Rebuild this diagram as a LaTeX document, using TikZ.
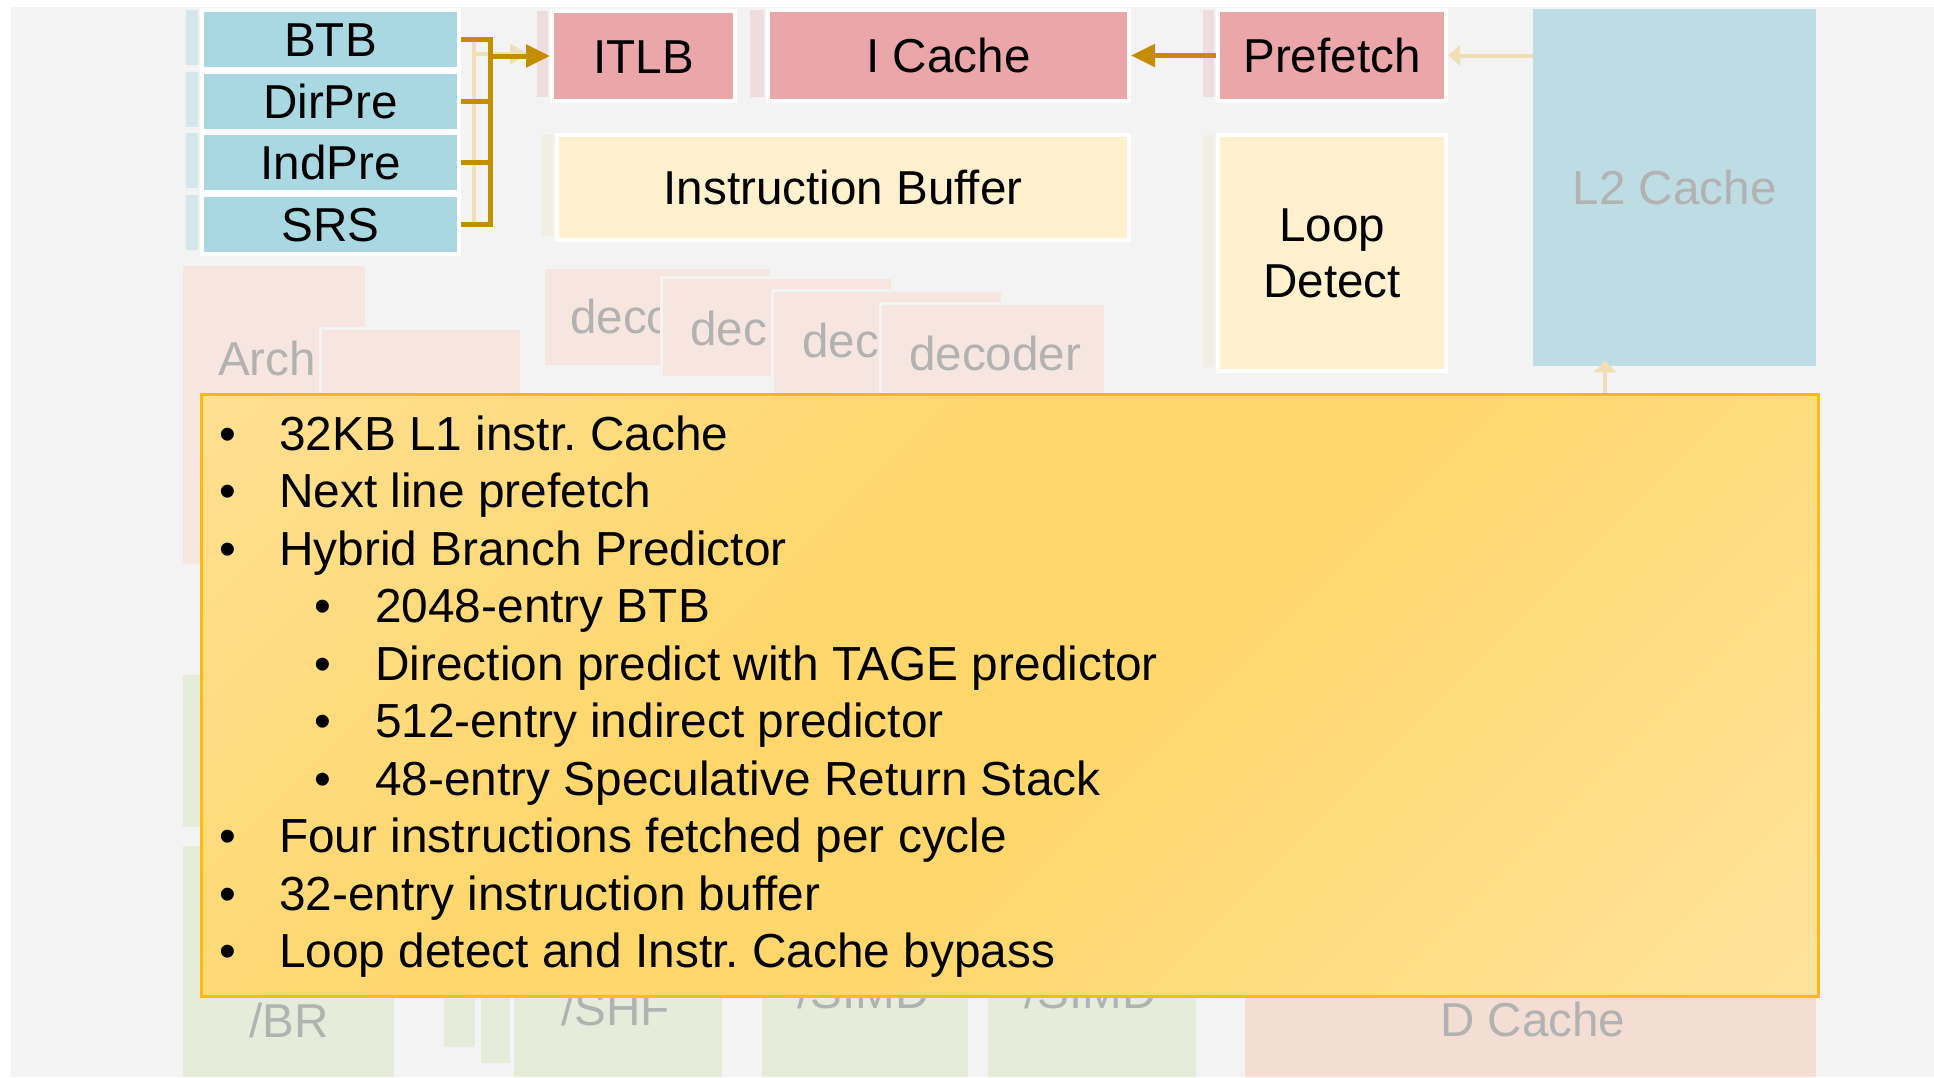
\documentclass[tikz,border=0pt]{standalone}
\usepackage{fontspec}
\setmainfont{Liberation Sans}
\usetikzlibrary{arrows.meta}

\definecolor{pagebg}{HTML}{F3F3F3}
\definecolor{predblue}{HTML}{A9D8E3}
\definecolor{fetchpink}{HTML}{EBA6A9}
\definecolor{bufcream}{HTML}{FFF1CE}
\definecolor{busgold}{HTML}{C38E00}
\definecolor{notesedge}{HTML}{FDBA12}
\definecolor{gfA}{HTML}{FFE5A8}
\definecolor{gfB}{HTML}{FFD76D}
\definecolor{gfC}{HTML}{FFE9B2}
\definecolor{washpeach}{HTML}{F6E6DF}
\definecolor{washpeachB}{HTML}{F4DDD3}
\definecolor{washgreen}{HTML}{E5ECDA}
\definecolor{washblue}{HTML}{BEDCE4}
\definecolor{stripblue}{HTML}{D5E7EC}
\definecolor{strippink}{HTML}{EFDCDD}
\definecolor{stripcream}{HTML}{F3EEE3}
\definecolor{washtext}{HTML}{B2B2B2}
\definecolor{washgold}{HTML}{EEDFB4}

\newcommand\unitfont{\fontsize{47.6pt}{56pt}\selectfont}
\newcommand\notefont{\fontsize{47.8pt}{57.5pt}\selectfont}

\pgfdeclarehorizontalshading{notesfade}{100bp}{color(0bp)=(gfA); color(40bp)=(gfB); color(55bp)=(gfB); color(100bp)=(gfC)}

\frenchspacing
\begin{document}
\begin{tikzpicture}[x=1pt,y=-1pt,
  unitbox/.style={draw=white, line width=4pt, inner sep=0pt, anchor=north west, font=\unitfont, text=black},
  unit/.style={unitbox, text height=34pt, text depth=0pt},
  washbox/.style={fill=#1, draw=pagebg, line width=3pt},
  washlabel/.style={anchor=base west, inner sep=0pt, font=\unitfont, text=washtext},
  goldwire/.style={draw=busgold, line width=5pt},
  goldarrow/.style={goldwire, -{Triangle[length=24pt,width=22pt]}},
  faintwire/.style={draw=washgold, line width=4pt},
  notes/.style={draw=notesedge, line width=3pt, shading=notesfade, shading angle=-45, inner sep=0pt, anchor=north west},
  bulletdot/.style={anchor=base, inner sep=0pt, font=\notefont},
  noteline/.style={anchor=base west, inner sep=0pt, font=\notefont},
]
\useasboundingbox (0,0) rectangle (1934,1077);
\fill[white] (0,0) rectangle (1934,1077);
\fill[pagebg] (11,7) rectangle (1934,1077);

% faded blocks of the rest of the core
\fill[washpeach] (183,266) rectangle (365,564);
\node[washlabel] (arch) at (218,375) {Arch};
\draw[washbox=washpeach] (320,328) rectangle (521,430);

\draw[washbox=washpeach] (543,267) rectangle (771,366);
\begin{scope}
  \clip (543,267) rectangle (659,366);
  \node[washlabel] (decA) at (570,333) {deco};
\end{scope}
\draw[washbox=washpeach] (661,277) rectangle (892,377);
\node[washlabel] (decB) at (690,345) {dec};
\draw[washbox=washpeach] (772,290) rectangle (1002,420);
\node[washlabel] (decC) at (802,357) {dec};
\draw[washbox=washpeach] (880,303) rectangle (1105,420);
\node[washlabel] (decD) at (909,370) {decoder};

\fill[washgreen] (183,675) rectangle (394,827);
\fill[washgreen] (183,846) rectangle (394,1077);
\node[washlabel] (br) at (249,1037) {/BR};
\fill[washgreen] (444,940) rectangle (475,1047);
\fill[washgreen] (481,940) rectangle (510,1063);
\fill[washgreen] (514,940) rectangle (722,1077);
\node[washlabel] (shf) at (561,1025) {/SHF};
\fill[washgreen] (762,940) rectangle (968,1077);
\node[washlabel] (simdA) at (797,1008) {/SIMD};
\fill[washgreen] (988,940) rectangle (1196,1077);
\node[washlabel] (simdB) at (1024,1008) {/SIMD};
\fill[washpeachB] (1245,940) rectangle (1816,1077);
\node[washlabel] (dcache) at (1440,1036) {D Cache};

\node[fill=washblue, inner sep=0pt, anchor=north west, minimum width=283pt, minimum height=357pt,
      font=\unitfont, text=washtext, text height=34pt, text depth=0pt] (L2) at (1533,9) {L2 Cache};

% faint edges left of each unit
\foreach \t in {10,71.7,133.3,195} \fill[stripblue] (186,\t) rectangle (198,\t+55);
\fill[strippink] (537,11) rectangle (548,97);
\fill[strippink] (750,10) rectangle (764,97);
\fill[strippink] (1203,10) rectangle (1214,97);
\fill[stripcream] (542,135) rectangle (553,236);
\fill[stripcream] (1203,135) rectangle (1214,367);

% front-end units
\node[unit, fill=predblue, minimum width=257pt, minimum height=59pt] (BTB) at (200,8) {BTB};
\node[unit, fill=predblue, minimum width=257pt, minimum height=59pt] (DirPre) at (200,69.7) {DirPre};
\node[unit, fill=predblue, minimum width=257pt, minimum height=59pt] (IndPre) at (200,131.3) {IndPre};
\node[unit, fill=predblue, minimum width=257pt, minimum height=59pt] (SRS) at (200,193) {SRS};

\node[unit, fill=fetchpink, minimum width=183pt, minimum height=90pt] (ITLB) at (550,9) {ITLB};
\node[unit, fill=fetchpink, minimum width=361pt, minimum height=91pt] (ICache) at (766,8) {I Cache};
\node[unit, fill=fetchpink, minimum width=228pt, minimum height=91pt] (Prefetch) at (1216,8) {Prefetch};
\node[unit, fill=bufcream, minimum width=572pt, minimum height=105pt] (IB) at (555,133) {Instruction Buffer};
\node[unitbox, fill=bufcream, minimum width=228pt, minimum height=236pt, align=center] (LD) at (1216,133) {Loop\\Detect};

% faint traces of earlier wiring
\draw[faintwire] (474,37.5) -- (474,222.5);
\draw[faintwire, -{Triangle[length=18pt,width=20pt]}] (474,54) -- (528,54);
\draw[faintwire, -{Triangle[length=12pt,width=20pt]}] (L2.west |- Prefetch.east) -- (Prefetch.east);

% predictor bus into the ITLB
\coordinate (bus) at (490,0);
\draw[goldwire] (BTB.east) -- (BTB.east -| bus) -- (SRS.east -| bus) -- (SRS.east);
\draw[goldwire] (DirPre.east) -- (DirPre.east -| bus);
\draw[goldwire] (IndPre.east) -- (IndPre.east -| bus);
\draw[goldarrow] (ITLB.west -| bus) -- (ITLB.west);
\draw[goldarrow] (Prefetch.west) -- (ICache.east);

% feature summary
\node[notes, minimum width=1617pt, minimum height=602pt] (notes) at (200,393) {};
\coordinate (l2tap) at (1605,393);
\draw[faintwire, -{Triangle[length=12pt,width=22pt]}] (l2tap) -- ([yshift=6pt]l2tap |- L2.south);

\node[bulletdot] at (227.5,450) {•};
\node[noteline] (n1) at (279,450) {32KB L1 instr. Cache};
\node[bulletdot] at (227.5,507.5) {•};
\node[noteline] (n2) at (279,507.5) {Next line prefetch};
\node[bulletdot] at (227.5,565) {•};
\node[noteline] (n3) at (279,565) {Hybrid Branch Predictor};
\node[bulletdot] at (323,622.5) {•};
\node[noteline] (n4) at (375,622.5) {2048-entry BTB};
\node[bulletdot] at (323,680) {•};
\node[noteline] (n5) at (375,680) {Direction predict with TAGE predictor};
\node[bulletdot] at (323,737.5) {•};
\node[noteline] (n6) at (375,737.5) {512-entry indirect predictor};
\node[bulletdot] at (323,795) {•};
\node[noteline] (n7) at (375,795) {48-entry Speculative Return Stack};
\node[bulletdot] at (227.5,852.5) {•};
\node[noteline] (n8) at (279,852.5) {Four instructions fetched per cycle};
\node[bulletdot] at (227.5,910) {•};
\node[noteline] (n9) at (279,910) {32-entry instruction buffer};
\node[bulletdot] at (227.5,967.5) {•};
\node[noteline] (n10) at (279,967.5) {Loop detect and Instr. Cache bypass};
\end{tikzpicture}
\end{document}
